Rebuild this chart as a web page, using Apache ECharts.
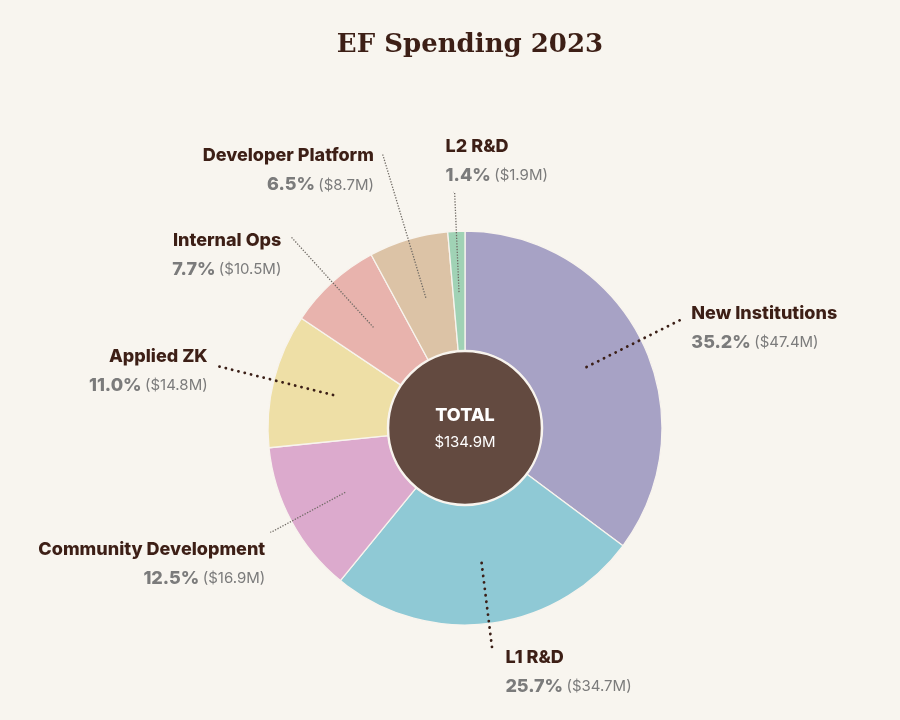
<!DOCTYPE html>
<html>
<head>
<meta charset="utf-8">
<script src="https://cdn.jsdelivr.net/npm/echarts@6/dist/echarts.min.js"></script>
<style>
html,body{margin:0;padding:0;background:#f8f5ef;}
#c{width:900px;height:720px;}
</style>
</head>
<body>
<div id="c"></div>
<script>
const titleText = 'EF Spending 2023';
const categories = ['New Institutions','L1 R&D','Community Development','Applied ZK','Internal Ops','Developer Platform','L2 R&D'];
const percents = [35.2, 25.7, 12.5, 11.0, 7.7, 6.5, 1.4];
const amounts = ['$47.4M','$34.7M','$16.9M','$14.8M','$10.5M','$8.7M','$1.9M'];
const totalLabel = '$134.9M';
const colors = ['#a7a2c5','#8fc9d5','#dcaacd','#eedfa6','#e8b3ad','#dcc3a6','#a0d2b5'];

const lineLen = [106, 88, 84, 120, 122, 149, 100];
const heavy = [true, true, false, true, false, false, false];
const padTop = [17, 43, 63, 11, 35, 31, 0];
const gap = [9, 12, 5, 8, 9, 8, 8];

const chart = echarts.init(document.getElementById('c'), null, {renderer:'canvas'});
const C = [465, 428];

const labelData = categories.map((n, i) => ({
  name: n,
  value: percents[i],
  label: { padding: [padTop[i], 0, 0, 0], distanceToLabelLine: gap[i] },
  labelLine: {
    length: lineLen[i],
    length2: 1,
    lineStyle: heavy[i]
      ? { color: '#3b1f17', width: 2.8, type: [0.1, 6.4], cap: 'round' }
      : { color: '#6f6a64', width: 1.3, type: [1.3, 1.5] }
  }
}));

chart.setOption({
  backgroundColor: '#f8f5ef',
  animation: false,
  title: {
    text: titleText,
    left: 465, top: 27, textAlign: 'center',
    textStyle: { fontFamily: 'DejaVu Serif', fontWeight: 'bold', fontSize: 26, color: '#3d1f16' }
  },
  series: [
    {
      type: 'pie', z: 2, silent: true,
      center: C, radius: [77, 197],
      startAngle: 90, clockwise: true,
      label: { show: false }, labelLine: { show: false },
      itemStyle: { borderColor: '#f8f4ee', borderWidth: 1.3 },
      data: categories.map((n, i) => ({ name: n, value: percents[i], itemStyle: { color: colors[i] } }))
    },
    {
      type: 'pie', z: 5, silent: true,
      center: C, radius: [0, 136],
      startAngle: 90, clockwise: true,
      avoidLabelOverlap: false,
      itemStyle: { color: 'rgba(0,0,0,0)' },
      label: {
        show: true, position: 'outside', distanceToLabelLine: 8,
        formatter: p => '{n|' + p.name + '}\n{p|' + percents[p.dataIndex].toFixed(1) + '%} {v|(' + amounts[p.dataIndex] + ')}',
        rich: {
          n: { fontFamily: 'Inter', fontWeight: 800, fontSize: 18, color: '#3d1f16', lineHeight: 29 },
          p: { fontFamily: 'Inter', fontWeight: 800, fontSize: 18, color: '#7b7b7b', lineHeight: 29 },
          v: { fontFamily: 'Inter', fontSize: 15, color: '#7b7b7b', lineHeight: 29 }
        }
      },
      labelLine: { show: true, smooth: false },
      labelLayout: function (params) {
        if (params.dataIndex === 6 && params.labelLinePoints) {
          const pts = params.labelLinePoints;
          const end = pts[pts.length - 1];
          return { x: end[0] - 8, y: end[1] - 2, align: 'left', verticalAlign: 'bottom', labelLinePoints: pts };
        }
        return {};
      },
      data: labelData
    },
    {
      type: 'pie', z: 3, silent: true,
      center: C, radius: [0, 77],
      label: {
        show: true, position: 'center',
        formatter: () => '{t|TOTAL}\n{a|' + totalLabel + '}',
        rich: {
          t: { fontFamily: 'Inter', fontWeight: 800, fontSize: 18, color: '#ffffff', lineHeight: 28 },
          a: { fontFamily: 'Inter', fontSize: 15, color: '#ffffff', lineHeight: 24 }
        }
      },
      labelLine: { show: false },
      itemStyle: { color: '#634a40', borderColor: '#f8f4ee', borderWidth: 2.5 },
      data: [{ name: 'TOTAL', value: 1 }]
    }
  ]
});
</script>
</body>
</html>
